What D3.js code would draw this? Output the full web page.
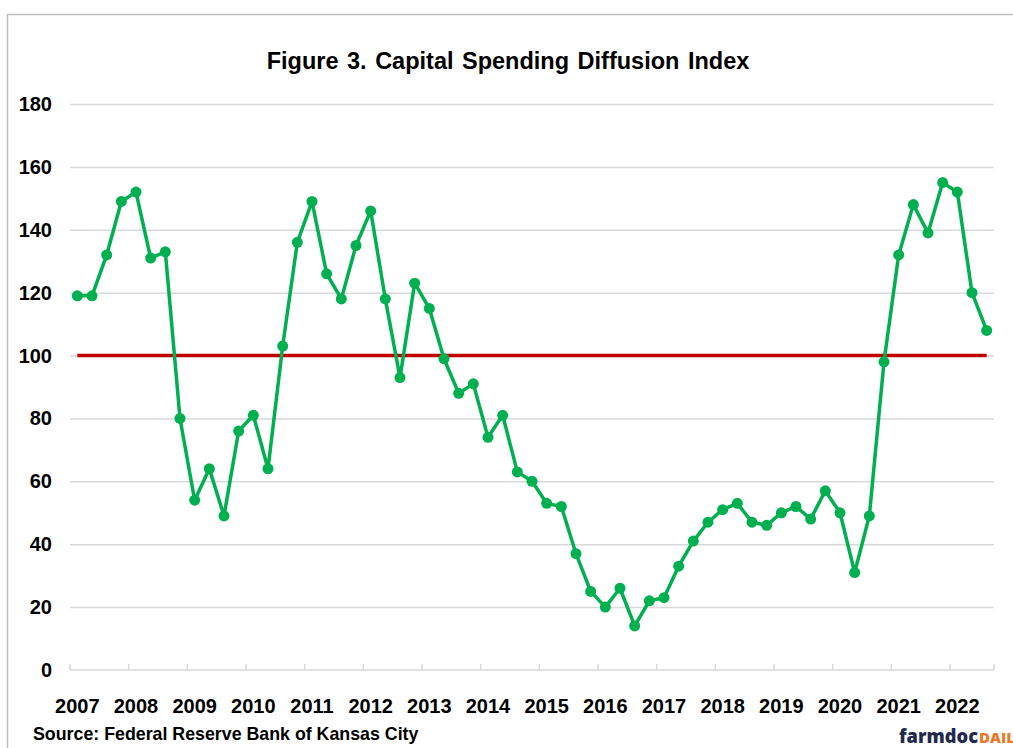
<!DOCTYPE html>
<html>
<head>
<meta charset="utf-8">
<script src="https://cdn.jsdelivr.net/npm/d3@7"></script>
<style>
  body { margin: 0; background: #fff; }
  svg { display: block; font-family: "Liberation Sans", Arial, sans-serif; }
</style>
</head>
<body>
<svg id="chart" width="1013" height="748"></svg>
<script>
// quarterly, 2007 Q1 .. 2022 Q3
const years = d3.range(2007, 2023)
const quarters = []
years.forEach(y => [1, 2, 3, 4].forEach(q => { if (!(y === 2022 && q === 4)) quarters.push(`${y}Q${q}`) }))

const index = [
    119, 119, 132, 149, 152, 131, 133, 80,
    54, 64, 49, 76, 81, 64, 103, 136,
    149, 126, 118, 135, 146, 118, 93, 123,
    115, 99, 88, 91, 74, 81, 63, 60,
    53, 52, 37, 25, 20, 26, 14, 22,
    23, 33, 41, 47, 51, 53, 47, 46,
    50, 52, 48, 57, 50, 31, 49, 98,
    132, 148, 139, 155, 152, 120, 108
]
const baseline = quarters.map(() => 100)
const yTicks = [0, 20, 40, 60, 80, 100, 120, 140, 160, 180]

const GREEN = "#00b050",
    RED = "#c00000",
    GRID = "#d9d9d9"

let svg = d3.select("#chart"),
    plotLeft = 70,
    plotRight = 994,
    plotTop = 104,
    plotBottom = 670

// chart area border
svg.append("rect")
    .attr("x", 7.5)
    .attr("y", 14.5)
    .attr("width", 1100)
    .attr("height", 800)
    .style("fill", "none")
    .style("stroke", "#bfbfbf")
    .style("stroke-width", 1.5)

let x = d3.scaleBand().domain(quarters).range([plotLeft, plotRight]),
    y = d3.scaleLinear().domain([0, 180]).range([plotBottom, plotTop]),
    cx = d => x(d) + x.bandwidth() / 2

svg.append("text")
    .text("Figure 3. Capital Spending Diffusion Index")
    .attr("x", 508)
    .attr("y", 69)
    .attr("text-anchor", "middle")
    .style("font-size", "23.5px")
    .style("font-weight", "bold")
    .style("word-spacing", "2px")
    .style("fill", "#000")

// gridlines + y labels
svg.append("g")
    .attr("transform", `translate(${plotLeft}, 0)`)
    .call(d3.axisLeft(y).tickValues(yTicks.filter(v => v > 0)).tickSize(-(plotRight - plotLeft)).tickFormat(""))
    .call(g => g.select(".domain").remove())
    .call(g => g.selectAll(".tick line").style("stroke", GRID).style("stroke-width", 1.5))

svg.append("g")
    .selectAll("text")
    .data(yTicks)
    .join("text")
    .text(d => d)
    .attr("x", 52)
    .attr("y", d => y(d))
    .attr("dy", "0.35em")
    .attr("text-anchor", "end")
    .style("font-size", "20px")
    .style("font-weight", "bold")

// x axis: line with year-boundary ticks pointing up
let yearStarts = years.map(yr => `${yr}Q1`)
svg.append("line")
    .attr("x1", plotLeft).attr("x2", plotRight)
    .attr("y1", plotBottom).attr("y2", plotBottom)
    .style("stroke", GRID).style("stroke-width", 1.5)

svg.append("g")
    .selectAll("line")
    .data(yearStarts.concat(["end"]))
    .join("line")
    .attr("x1", d => d === "end" ? plotRight : x(d))
    .attr("x2", d => d === "end" ? plotRight : x(d))
    .attr("y1", plotBottom)
    .attr("y2", plotBottom - 6)
    .style("stroke", GRID).style("stroke-width", 1.5)

svg.append("g")
    .selectAll("text")
    .data(yearStarts)
    .join("text")
    .text(d => d.slice(0, 4))
    .attr("x", d => cx(d))
    .attr("y", 713)
    .attr("text-anchor", "middle")
    .style("font-size", "20px")
    .style("font-weight", "bold")

// 100 reference line
svg.append("path")
    .datum(baseline)
    .attr("d", d3.line().x((d, i) => cx(quarters[i])).y(d => y(d)))
    .style("fill", "none")
    .style("stroke", RED)
    .style("stroke-width", 3.5)

// index series
svg.append("path")
    .datum(index)
    .attr("d", d3.line().x((d, i) => cx(quarters[i])).y(d => y(d)))
    .style("fill", "none")
    .style("stroke", GREEN)
    .style("stroke-width", 3.5)
    .style("stroke-linejoin", "round")

svg.append("g")
    .selectAll("circle")
    .data(index)
    .join("circle")
    .attr("cx", (d, i) => cx(quarters[i]))
    .attr("cy", d => y(d))
    .attr("r", 5.5)
    .style("fill", GREEN)

svg.append("text")
    .text("Source: Federal Reserve Bank of Kansas City")
    .attr("x", 33)
    .attr("y", 740)
    .style("font-size", "17.8px")
    .style("font-weight", "bold")

// logo, clipped at the right edge like the original
svg.append("text")
    .text("farmdoc")
    .attr("x", 899)
    .attr("y", 743)
    .attr("textLength", 79)
    .attr("lengthAdjust", "spacingAndGlyphs")
    .style("font-family", "'Open Sans', sans-serif")
    .style("font-weight", "800")
    .style("font-size", "19px")
    .style("fill", "#1f2a4d")

svg.append("text")
    .text("DAIL")
    .attr("x", 979)
    .attr("y", 743)
    .attr("textLength", 36)
    .attr("lengthAdjust", "spacingAndGlyphs")
    .style("font-family", "'Open Sans', sans-serif")
    .style("font-weight", "800")
    .style("font-size", "14px")
    .style("fill", "#e8792a")
</script>
</body>
</html>
